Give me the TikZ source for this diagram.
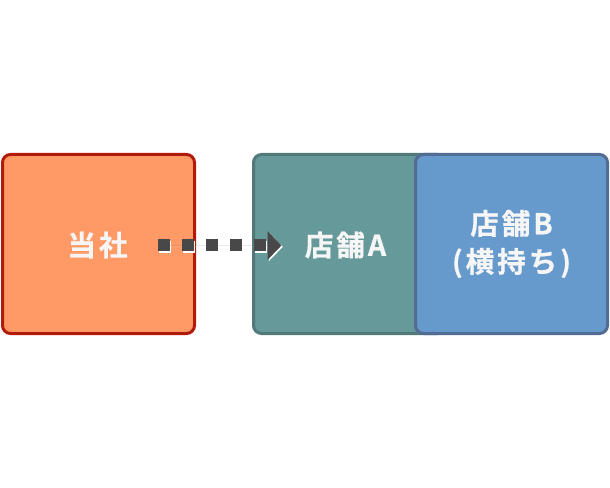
\documentclass[tikz,border=0pt]{standalone}
\usepackage{fontspec}
\newfontfamily\jpbold[LetterSpace=10,FakeBold=0.6]{Noto Sans CJK JP Bold}
\usetikzlibrary{arrows.meta}
\definecolor{orfill}{RGB}{255,153,102}
\definecolor{ordraw}{RGB}{178,26,10}
\definecolor{tlfill}{RGB}{102,153,153}
\definecolor{tldraw}{RGB}{82,120,120}
\definecolor{blfill}{RGB}{102,153,204}
\definecolor{bldraw}{RGB}{82,108,148}
\definecolor{arrowc}{RGB}{72,72,72}
\definecolor{txtc}{RGB}{246,246,246}
\tikzset{
  boxnode/.style={rectangle, rounded corners=6pt, line width=2.25pt,
    minimum width=144pt, minimum height=134.25pt, inner sep=0pt,
    text=txtc, align=center, font=\jpbold\fontsize{21.5}{28.5}\selectfont},
  labeltext/.style={text=txtc, inner sep=0pt, font=\jpbold\fontsize{21.5}{28.5}\selectfont},
  dotarrow/.style={line width=9pt, dash pattern=on 9pt off 9pt,
    -{Triangle[length=10.5pt,width=21pt]}},
}
\begin{document}
\begin{tikzpicture}[x=0.75pt,y=-0.75pt]
\useasboundingbox (0,0) rectangle (610,488);
\node[boxnode, draw=ordraw, fill=orfill] (tosha) at (98.5,244) {};
\node[boxnode, draw=tldraw, fill=tlfill] (tenA) at (349.5,244) {};
\node[boxnode, draw=bldraw, fill=blfill] (tenB) at (511.5,244) {店舗B\\(横持ち)};
\node[labeltext] (toshaT) at (97.5,245) {当社};
\node[labeltext] (tenAT) at (345.5,245) {店舗A};
\coordinate (s) at (158,245.5);
\coordinate (e) at (281.5,245.5);
\draw[dotarrow, draw=white, fill=white] ([shift={(1.3,1.3)}]s) -- ([shift={(1.3,1.3)}]e);
\draw[dotarrow, draw=arrowc, fill=arrowc] (s) -- (e);
\end{tikzpicture}
\end{document}
